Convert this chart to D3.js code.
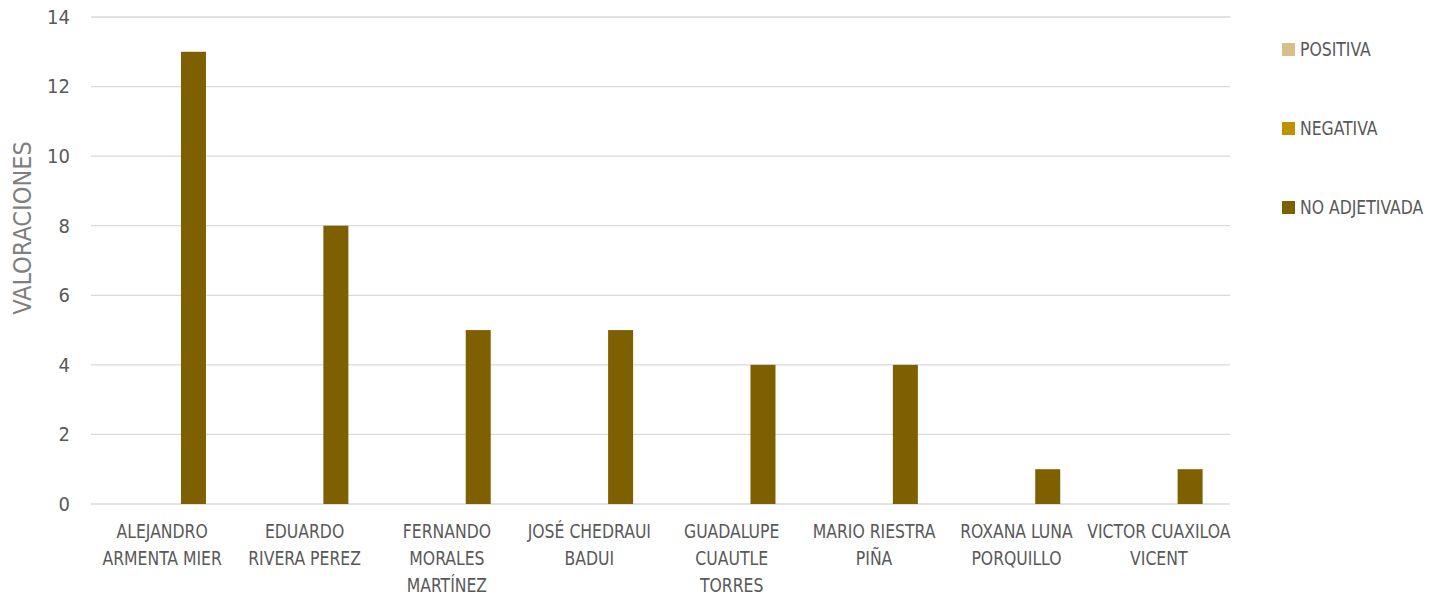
<!DOCTYPE html>
<html><head><meta charset="utf-8">
<script src="https://cdn.jsdelivr.net/npm/d3@7"></script>
<style>
body{margin:0;background:#fff;}
text{font-family:"DejaVu Sans Condensed","DejaVu Sans",sans-serif;}
</style></head>
<body><svg id="c" width="1442" height="596"></svg>
<script>
const categories = [
  ["ALEJANDRO","ARMENTA MIER"],
  ["EDUARDO","RIVERA PEREZ"],
  ["FERNANDO","MORALES","MARTÍNEZ"],
  ["JOSÉ CHEDRAUI","BADUI"],
  ["GUADALUPE","CUAUTLE","TORRES"],
  ["MARIO RIESTRA","PIÑA"],
  ["ROXANA LUNA","PORQUILLO"],
  ["VICTOR CUAXILOA","VICENT"]
];
const seriesNames = ["POSITIVA","NEGATIVA","NO ADJETIVADA"];
const positiva = [0,0,0,0,0,0,0,0];
const negativa = [0,0,0,0,0,0,0,0];
const noAdjetivada = [13,8,5,5,4,4,1,1];
const yTicks = [0,2,4,6,8,10,12,14];
const colors = ["#d8bf8a","#bf9000","#7f6000"];

const seriesValues = [positiva, negativa, noAdjetivada];
const svg = d3.select("#c");
const L = 91, R = 1230, T = 17, B = 504;
const SX = 0.87;
const catKeys = categories.map((d,i)=>i);
const x0 = d3.scaleBand().domain(catKeys).range([L,R]).paddingInner(0).paddingOuter(0);
const bw = x0.bandwidth();
const x1 = d3.scaleBand().domain(seriesNames).range([bw*40/142.4, bw*115/142.4]).padding(0);
const y = d3.scaleLinear().domain([0,14]).range([B,T]);

// gridlines
svg.append("g").selectAll("line").data(yTicks).join("line")
  .attr("x1",L).attr("x2",R).attr("y1",d=>y(d)).attr("y2",d=>y(d))
  .attr("stroke","#d9d9d9").attr("stroke-width",1.3);

// y axis
const yAxis = d3.axisLeft(y).tickValues(yTicks).tickSize(0).tickPadding(21);
const gy = svg.append("g").attr("transform",`translate(${L},0)`).call(yAxis);
gy.select(".domain").remove();
gy.selectAll("text").attr("font-size",20).attr("fill","#595959")
  .style("font-family",'"DejaVu Sans Condensed","DejaVu Sans",sans-serif');

// bars
const groups = svg.append("g").selectAll("g").data(catKeys).join("g")
  .attr("transform",i=>`translate(${x0(i)},0)`);
groups.selectAll("rect").data(i=>seriesNames.map((s,k)=>({s, v:seriesValues[k][i], k})))
  .join("rect")
  .attr("x",d=>x1(d.s)).attr("width",x1.bandwidth())
  .attr("y",d=>y(d.v)).attr("height",d=>y(0)-y(d.v))
  .attr("fill",d=>colors[d.k]);

// x labels
const xl = svg.append("g");
categories.forEach((lines,i)=>{
  const g = xl.append("g").attr("transform",`translate(${x0(i)+bw/2},538) scale(${SX},1)`);
  const t = g.append("text").attr("x",0).attr("y",0)
    .attr("text-anchor","middle").attr("font-size",20).attr("fill","#595959");
  lines.forEach((ln,j)=>t.append("tspan").attr("x",0).attr("dy",j===0?0:27).text(ln));
});

// y title
svg.append("text").attr("transform","translate(31,228) rotate(-90)")
  .attr("text-anchor","middle").attr("font-size",25).attr("fill","#7f7f7f")
  .text("VALORACIONES");

// legend
const leg = svg.append("g").selectAll("g").data(seriesNames).join("g")
  .attr("transform",(d,i)=>`translate(1282,${43+i*79})`);
leg.append("rect").attr("width",13).attr("height",13).attr("fill",(d,i)=>colors[i]);
leg.append("text").attr("transform",`translate(18,13) scale(${SX},1)`)
  .attr("font-size",20).attr("fill","#595959").text(d=>d);
</script></body></html>
